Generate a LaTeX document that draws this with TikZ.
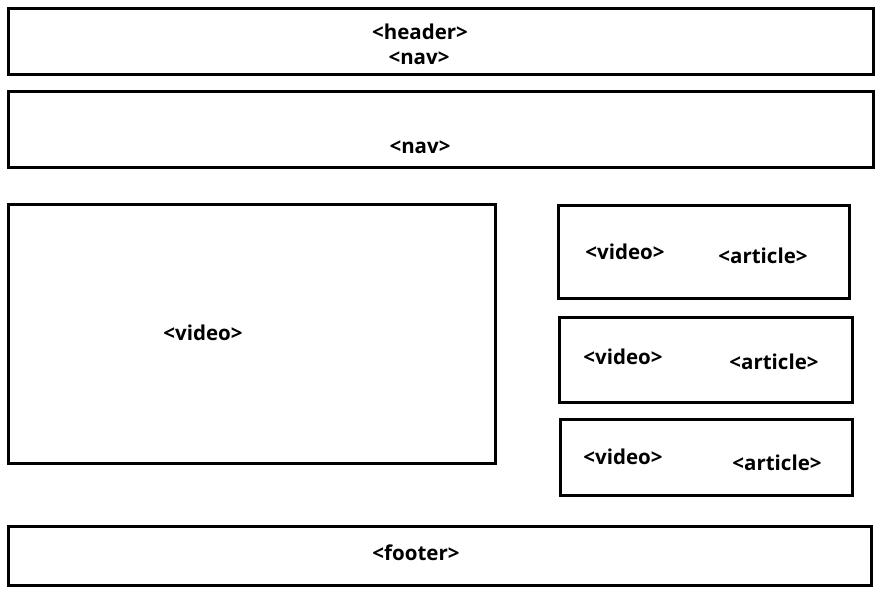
\documentclass[tikz,border=0pt]{standalone}
\usepackage{fontspec}
\setmainfont{Open Sans}
\begin{document}
\begin{tikzpicture}[x=1pt,y=-1pt,
  box/.style={draw=black,line width=3pt,fill=none},
  lbl/.style={font=\bfseries\fontsize{20.5}{22}\selectfont,inner sep=0pt,anchor=center}]
\useasboundingbox[fill=white] (0,0) rectangle (882,595);
\draw[box] (8,8) rectangle (873,74);
\draw[box] (8,91) rectangle (873,167);
\draw[box] (8,204) rectangle (495,463);
\draw[box] (558,205) rectangle (849,298);
\draw[box] (559,317) rectangle (852,402);
\draw[box] (560,419) rectangle (852,495);
\draw[box] (8,526) rectangle (871,585);
\node[lbl] (h) at (420,32) {<header>};
\node[lbl] (n1) at (419,58) {<nav>};
\node[lbl] (n2) at (420,147) {<nav>};
\node[lbl] (v0) at (203,333) {<video>};
\node[lbl] (v1) at (625,252) {<video>};
\node[lbl] (a1) at (763,256) {<article>};
\node[lbl] (v2) at (623,357) {<video>};
\node[lbl] (a2) at (774,362) {<article>};
\node[lbl] (v3) at (623,457) {<video>};
\node[lbl] (a3) at (777,463) {<article>};
\node[lbl] (f) at (416,553) {<footer>};
\end{tikzpicture}
\end{document}
